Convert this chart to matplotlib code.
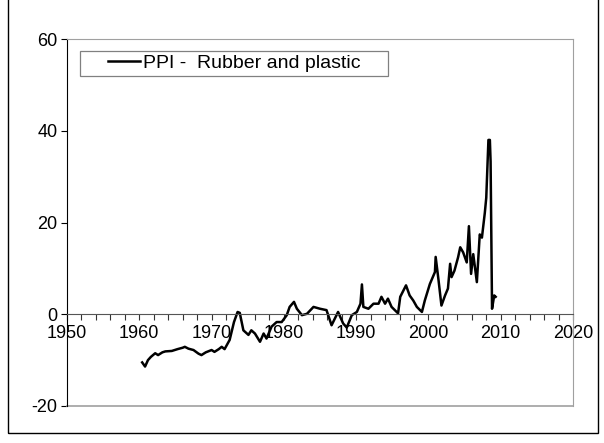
import matplotlib
matplotlib.use("Agg")
import matplotlib.pyplot as plt
from matplotlib.patches import Rectangle
from matplotlib.ticker import MultipleLocator, FuncFormatter

plt.rcParams['font.family'] = ['Liberation Sans', 'DejaVu Sans']
plt.rcParams['axes.unicode_minus'] = False

# values (year, percent change)
years = [1960.4, 1960.8, 1961.2, 1961.6, 1962.2, 1962.6, 1963.2, 1963.6, 1964.5,
         1965.3, 1966.0, 1966.3, 1966.8, 1967.5, 1968.2, 1968.6, 1969.2, 1970.0,
         1970.4, 1971.0, 1971.4, 1971.8, 1972.5, 1973.1, 1973.6, 1973.9, 1974.4,
         1975.1, 1975.5, 1976.0, 1976.7, 1977.2, 1977.6, 1978.3, 1979.0, 1979.7,
         1980.4, 1980.8, 1981.4, 1981.8, 1982.5, 1983.2, 1984.1, 1985.0, 1985.9,
         1986.6, 1987.5, 1988.2, 1988.7, 1989.4, 1990.1, 1990.6, 1990.8, 1991.0,
         1991.7, 1992.4, 1993.1, 1993.5, 1994.0, 1994.4, 1994.9, 1995.8, 1996.1,
         1996.9, 1997.4, 1997.9, 1998.4, 1999.1, 1999.5, 2000.2, 2000.9, 2001.0,
         2001.4, 2001.8, 2002.3, 2002.7, 2003.0, 2003.2, 2003.6, 2004.1, 2004.4,
         2004.8, 2005.3, 2005.6, 2005.9, 2006.2, 2006.7, 2007.1, 2007.4, 2007.8,
         2008.0, 2008.3, 2008.5, 2008.6, 2008.8, 2009.1, 2009.3]
ppi = [-10.5, -11.4, -10.0, -9.3, -8.5, -8.9, -8.3, -8.1, -8.0,
       -7.6, -7.3, -7.1, -7.5, -7.8, -8.6, -8.9, -8.3, -7.8,
       -8.2, -7.6, -7.1, -7.6, -5.6, -1.7, 0.5, 0.3, -3.5,
       -4.5, -3.5, -4.2, -6.0, -4.2, -5.3, -2.7, -1.7, -1.7,
       -0.2, 1.6, 2.7, 1.2, -0.2, 0.1, 1.6, 1.2, 0.9,
       -2.4, 0.5, -2.0, -2.9, -0.2, 0.5, 2.3, 6.5, 1.6,
       1.2, 2.3, 2.3, 3.8, 2.3, 3.4, 1.6, 0.2, 3.8,
       6.3, 4.1, 3.0, 1.6, 0.5, 3.0, 6.6, 9.2, 12.5,
       7.4, 1.9, 4.1, 5.6, 11.0, 8.1, 9.5, 12.4, 14.6,
       13.5, 11.3, 19.2, 8.8, 13.1, 7.0, 17.4, 16.7, 22.1,
       25.4, 38.0, 38.0, 33.3, 1.2, 4.1, 3.8]

series_label = 'PPI -  Rubber and plastic'

W, H = 604, 443
fig = plt.figure(figsize=(W / 100, H / 100), dpi=100)
ax = fig.add_axes([67 / W, 1 - 406 / H, (573 - 67) / W, (406 - 39) / H])

ax.plot(years, ppi, color='black', linewidth=1.8, label=series_label)

ax.set_xlim(1950, 2020)
ax.set_ylim(-20, 60)

# x axis crosses at zero, Excel style
ax.spines['bottom'].set_position(('data', 0))
ax.spines['bottom'].set_color('#555555')
ax.spines['top'].set_color('#a0a0a0')
ax.spines['right'].set_color('#a0a0a0')
ax.spines['left'].set_color('black')
for s in ['top', 'right', 'left', 'bottom']:
    ax.spines[s].set_linewidth(0.8)
# gray frame line at the bottom of plot area
ax.axhline(-20, color='#a0a0a0', linewidth=1.2, clip_on=False)

ax.xaxis.set_major_locator(MultipleLocator(2))
ax.xaxis.set_major_formatter(FuncFormatter(lambda v, p: '%d' % v if round(v) % 10 == 0 else ''))
ax.yaxis.set_major_locator(MultipleLocator(20))
ax.tick_params(axis='x', direction='out', length=4, width=0.8, color='#333333',
               labelsize=13, pad=4)
ax.tick_params(axis='y', direction='out', length=4, width=0.8, labelsize=13, pad=3)

# legend: box drawn by hand, entry placed inside it
ax.add_patch(Rectangle(((80 - 67) / 506, (406 - 76) / 367), (388 - 80) / 506, 25 / 367,
                       transform=ax.transAxes, fill=True, facecolor='white',
                       edgecolor='#808080', linewidth=0.9, zorder=4))
leg = ax.legend(loc='center left', bbox_to_anchor=((108 - 67) / 506, (406 - 63.5) / 367),
                fontsize=14, frameon=False, handlelength=1.65, handletextpad=0.15,
                borderpad=0, borderaxespad=0)
leg.set_zorder(5)
leg.get_lines()[0].set_linewidth(1.8)

# outer chart border
fig.patches.append(Rectangle((8 / W, 1 - 433 / H), 590 / W, 1.2,
                             transform=fig.transFigure, fill=False,
                             edgecolor='black', linewidth=1.0))

fig.savefig('out.png', dpi=100)
